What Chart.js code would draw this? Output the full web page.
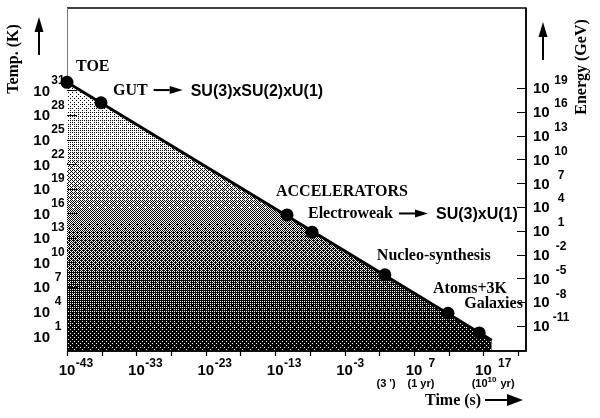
<!DOCTYPE html>
<html>
<head>
<meta charset="utf-8">
<script src="https://cdn.jsdelivr.net/npm/chart.js@4/dist/chart.umd.min.js"></script>
<style>
  html, body { margin: 0; padding: 0; background: #fff; }
  #wrap { width: 600px; height: 418px; }
</style>
</head>
<body>
<div id="wrap"><canvas id="c" width="600" height="418"></canvas></div>
<script>
// ---------- data (log10 values) ----------
const epochs   = ["TOE", "GUT", "ACCELERATORS", "Electroweak", "Nucleo-synthesis", "Atoms+3K", "Galaxies"];
const logTime  = [-43, -38.1, -11.3, -7.7, 2.8, 11.9, 16.4];   // log10 t (s)
const logTemp  = [32.0, 29.5, 15.8, 13.7, 8.5, 3.8, 1.4];      // log10 T (K)
const curveTime = [-43, 18.2];
const curveTemp = [32.0, 0.5];
const timeTicks  = [-43, -38, -33, -28, -23, -18, -13, -8, -3, 2, 7, 12, 17, 22];
const timeLabels = [-43, -33, -23, -13, -3, 7, 17];
const tempLabels   = [31, 28, 25, 22, 19, 16, 13, 10, 7, 4, 1];
const energyLabels = [19, 16, 13, 10, 7, 4, 1, -2, -5, -8, -11];
const noteText = ["(3 ')", "(1 yr)", "(10|10| yr)"];
const noteTime = [2.97, 8.0, 18.4];
const transFrom = ["GUT", "Electroweak"];
const transTo   = ["SU(3)xSU(2)xU(1)", "SU(3)xU(1)"];
const axisRange = { tMin: -43, tMax: 23.14, TMin: -0.81, TMax: 41.07, EMin: -14.17, EMax: 29.09 };

// ---------- styles ----------
const SERIF = "'Liberation Serif', 'Times New Roman', serif";
const SANS  = "'Liberation Sans', Arial, sans-serif";
const labelOffset = {
  "TOE": [9, -17], "GUT": [12, -13], "ACCELERATORS": [-11, -24], "Electroweak": [-4, -19],
  "Nucleo-synthesis": [-8, -20], "Atoms+3K": [-15, -26], "Galaxies": [-15, -30]
};

const bayer = [[0,32,8,40,2,34,10,42],[48,16,56,24,50,18,58,26],[12,44,4,36,14,46,6,38],[60,28,52,20,62,30,54,22],
               [3,35,11,43,1,33,9,41],[51,19,59,27,49,17,57,25],[15,47,7,39,13,45,5,37],[63,31,55,23,61,29,53,21]];
let cachedPattern = null;
function halftone(chart) {
  if (cachedPattern) return cachedPattern;
  const ca = chart.chartArea;
  const w = chart.width, h = chart.height;
  const cv = document.createElement('canvas');
  cv.width = w; cv.height = h;
  const g = cv.getContext('2d');
  const img = g.createImageData(w, h);
  const yTop = chart.scales.y.getPixelForValue(curveTemp[0]);
  const yBot = ca.bottom;
  for (let y = 0; y < h; y++) {
    let f = 0.08 + 0.84 * (y - yTop) / (yBot - yTop);
    f = Math.max(0, Math.min(1, f));
    for (let x = 0; x < w; x++) {
      const th = (bayer[y % 8][x % 8] + 0.5) / 64;
      const v = f > th ? 0 : 255;
      const i = (y * w + x) * 4;
      img.data[i] = v; img.data[i + 1] = v; img.data[i + 2] = v; img.data[i + 3] = 255;
    }
  }
  g.putImageData(img, 0, 0);
  cachedPattern = chart.ctx.createPattern(cv, 'no-repeat');
  return cachedPattern;
}

function arrow(ctx, x1, y1, x2, y2, headLen, headW, lw) {
  const ang = Math.atan2(y2 - y1, x2 - x1);
  const bx = x2 - headLen * Math.cos(ang), by = y2 - headLen * Math.sin(ang);
  ctx.save();
  ctx.strokeStyle = '#000'; ctx.fillStyle = '#000'; ctx.lineWidth = lw;
  ctx.beginPath(); ctx.moveTo(x1, y1); ctx.lineTo(bx, by); ctx.stroke();
  ctx.beginPath();
  ctx.moveTo(x2, y2);
  ctx.lineTo(bx + headW / 2 * Math.sin(ang), by - headW / 2 * Math.cos(ang));
  ctx.lineTo(bx - headW / 2 * Math.sin(ang), by + headW / 2 * Math.cos(ang));
  ctx.closePath(); ctx.fill();
  ctx.restore();
}

const decor = {
  id: 'decor',
  beforeDatasetsDraw(chart) {
    const ctx = chart.ctx, ca = chart.chartArea;
    const sx = chart.scales.x, sy = chart.scales.y, se = chart.scales.y2;
    ctx.save();
    ctx.strokeStyle = '#000'; ctx.lineWidth = 1.5;
    ctx.beginPath();
    ctx.moveTo(ca.left, ca.top); ctx.lineTo(ca.right, ca.top);
    ctx.lineTo(ca.right, ca.bottom); ctx.lineTo(ca.left, ca.bottom);
    ctx.stroke();
    ctx.strokeStyle = '#777'; ctx.lineWidth = 1;
    ctx.beginPath(); ctx.moveTo(ca.left + 0.5, ca.top); ctx.lineTo(ca.left + 0.5, ca.bottom); ctx.stroke();
    ctx.restore();
  },
  afterDatasetsDraw(chart) {
    const ctx = chart.ctx, ca = chart.chartArea;
    const sx = chart.scales.x, sy = chart.scales.y, se = chart.scales.y2;
    ctx.save();
    ctx.strokeStyle = '#000'; ctx.lineWidth = 1.5;
    ctx.beginPath();
    ctx.moveTo(ca.right, ca.top); ctx.lineTo(ca.right, ca.bottom); ctx.lineTo(ca.left, ca.bottom);
    ctx.stroke();
    // ticks
    ctx.strokeStyle = '#000'; ctx.lineWidth = 1.2;
    ctx.beginPath();
    timeTicks.forEach(t => { const x = Math.round(sx.getPixelForValue(t)) + 0.5; ctx.moveTo(x, ca.bottom); ctx.lineTo(x, ca.bottom + 5); });
    tempLabels.forEach(v => { const y = Math.round(sy.getPixelForValue(v)) + 0.5; ctx.moveTo(ca.left, y); ctx.lineTo(ca.left + 10, y); });
    energyLabels.forEach(v => { const y = Math.round(se.getPixelForValue(v)) + 0.5; ctx.moveTo(ca.right - 9, y); ctx.lineTo(ca.right, y); });
    ctx.stroke();
    ctx.restore();
  },
  afterDraw(chart) {
    const ctx = chart.ctx, ca = chart.chartArea;
    const sx = chart.scales.x, sy = chart.scales.y, se = chart.scales.y2;
    ctx.save();
    ctx.fillStyle = '#000';
    ctx.textBaseline = 'alphabetic';
    // x tick labels
    timeLabels.forEach(t => {
      const x = sx.getPixelForValue(t);
      ctx.font = 'bold 15px ' + SANS; ctx.textAlign = 'center';
      ctx.fillText('10', x, 375);
      const w = ctx.measureText('10').width;
      ctx.font = 'bold 12px ' + SANS; ctx.textAlign = 'left';
      ctx.fillText(t < 0 ? String(t) : '\u2009 ' + t, x + w / 2 + 0.5, 367);
    });
    // notes under x axis
    noteText.forEach((s, i) => {
      const x = sx.getPixelForValue(noteTime[i]);
      const parts = s.split('|');
      ctx.textAlign = 'left';
      ctx.font = 'bold 11px ' + SANS;
      if (parts.length === 1) {
        const w = ctx.measureText(s).width;
        ctx.fillText(s, x - w / 2, 387);
      } else {
        const w0 = ctx.measureText(parts[0]).width;
        const w2 = ctx.measureText(parts[2]).width;
        ctx.font = 'bold 8px ' + SANS;
        const w1 = ctx.measureText(parts[1]).width;
        let cx = x - (w0 + w1 + w2 + 1) / 2;
        ctx.font = 'bold 11px ' + SANS; ctx.fillText(parts[0], cx, 387); cx += w0;
        ctx.font = 'bold 8px ' + SANS; ctx.fillText(parts[1], cx, 382); cx += w1 + 1;
        ctx.font = 'bold 11px ' + SANS; ctx.fillText(parts[2], cx, 387);
      }
    });
    // left labels
    tempLabels.forEach(v => {
      const y = sy.getPixelForValue(v);
      ctx.font = 'bold 15px ' + SANS; ctx.textAlign = 'right';
      ctx.fillText('10', 50, y + 5.4);
      ctx.font = 'bold 12px ' + SANS; ctx.textAlign = 'center';
      ctx.fillText(String(v), 58, y - 6.5);
    });
    // right labels
    energyLabels.forEach(v => {
      const y = se.getPixelForValue(v);
      ctx.font = 'bold 15px ' + SANS; ctx.textAlign = 'left';
      ctx.fillText('10', 533, y + 5.4);
      ctx.font = 'bold 12px ' + SANS; ctx.textAlign = 'center';
      ctx.fillText(String(v), 561, y - 4.5);
    });
    // epoch labels
    ctx.textAlign = 'left';
    epochs.forEach((name, i) => {
      const px = sx.getPixelForValue(logTime[i]), py = sy.getPixelForValue(logTemp[i]);
      const off = labelOffset[name];
      ctx.font = 'bold 16px ' + SERIF;
      const lx = px + off[0], ly = py + off[1] + 5.3;
      ctx.fillText(name, lx, ly);
      const k = transFrom.indexOf(name);
      if (k >= 0) {
        const w = ctx.measureText(name).width;
        const ax = lx + w + 6;
        arrow(ctx, ax, ly - 5, ax + 29, ly - 5, 13, 8, 2);
        ctx.font = 'bold 16px ' + SANS;
        ctx.fillText(transTo[k], ax + 37, ly + 0.5);
      }
    });
    // axis titles
    ctx.font = 'bold 16px ' + SERIF; ctx.textAlign = 'center'; ctx.textBaseline = 'middle';
    ctx.save(); ctx.translate(14, 59); ctx.rotate(-Math.PI / 2); ctx.fillText('Temp. (K)', 0, 0); ctx.restore();
    ctx.save(); ctx.translate(582, 67); ctx.rotate(-Math.PI / 2); ctx.fillText('Energy (GeV)', 0, 0); ctx.restore();
    arrow(ctx, 39, 55, 39, 17, 15, 9, 2);
    arrow(ctx, 543, 60, 543, 22, 15, 9, 2);
    ctx.textAlign = 'left'; ctx.textBaseline = 'alphabetic';
    ctx.fillText('Time (s)', 425, 405);
    arrow(ctx, 485, 400, 523, 400, 16, 12, 2);
    ctx.restore();
  }
};

new Chart(document.getElementById('c'), {
  type: 'scatter',
  data: {
    datasets: [
      {
        label: 'epochs',
        data: logTime.map((t, i) => ({ x: t, y: logTemp[i] })),
        pointRadius: 6.5, pointBackgroundColor: '#000', pointBorderColor: '#000', pointBorderWidth: 0,
        showLine: false, order: 0, clip: false
      },
      {
        label: 'T(t)',
        type: 'line',
        data: curveTime.map((t, i) => ({ x: t, y: curveTemp[i] })),
        borderColor: '#000', borderWidth: 3, pointRadius: 0,
        fill: 'start',
        backgroundColor: (c) => c.chart.chartArea ? halftone(c.chart) : '#888',
        order: 1
      }
    ]
  },
  options: {
    responsive: false, animation: false, devicePixelRatio: 1,
    layout: { padding: { left: 67, top: 8, right: 74, bottom: 67 } },
    plugins: { legend: { display: false }, tooltip: { enabled: false } },
    scales: {
      x:  { type: 'linear', display: false, min: axisRange.tMin, max: axisRange.tMax },
      y:  { type: 'linear', display: false, min: axisRange.TMin, max: axisRange.TMax },
      y2: { type: 'linear', display: false, position: 'right', min: axisRange.EMin, max: axisRange.EMax }
    }
  },
  plugins: [decor]
});
</script>
</body>
</html>
